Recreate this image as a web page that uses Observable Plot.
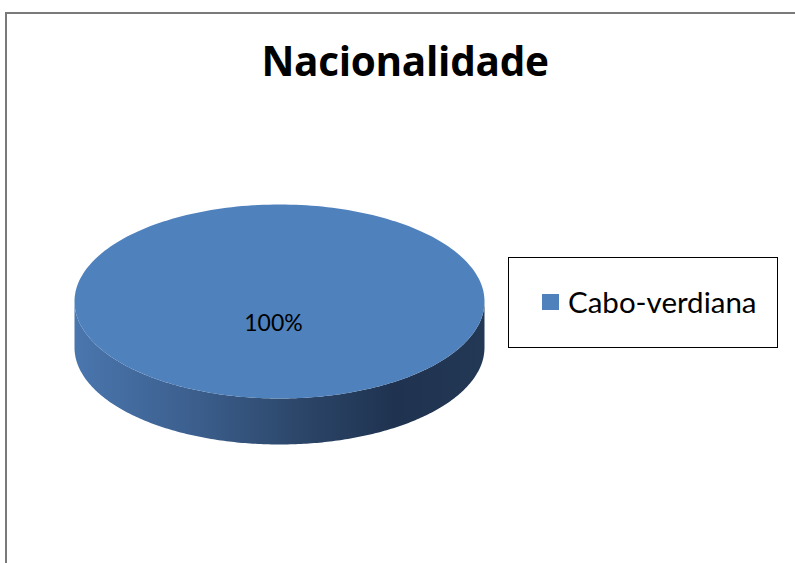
<!DOCTYPE html>
<html>
<head>
<meta charset="utf-8">
<script src="https://cdn.jsdelivr.net/npm/d3@7"></script>
<script src="https://cdn.jsdelivr.net/npm/@observablehq/plot@0.6"></script>
<style>
  html, body { margin: 0; padding: 0; background: #fff; }
  #wrap { position: relative; width: 795px; height: 563px; overflow: hidden; font-family: Lato, "Open Sans", sans-serif; color: #000; }
  #frame { position: absolute; left: 5px; top: 12px; width: 900px; height: 700px; border-top: 2px solid #7a7a7a; border-left: 2px solid #7a7a7a; box-sizing: border-box; }
  #title { position: absolute; left: 5px; width: 800px; top: 36px; text-align: center; font-family: "Open Sans", Lato, sans-serif; font-weight: 700; font-size: 40.5px; line-height: 50px; white-space: nowrap; letter-spacing: -0.3px; }
  #chart { position: absolute; left: 0; top: 0; }
  #legend { position: absolute; left: 508px; top: 257px; width: 270px; height: 91px; border: 1.5px solid #000; box-sizing: border-box; background: #fff; }
  .item { position: absolute; left: 33px; top: 26px; display: flex; align-items: center; white-space: nowrap; font-size: 29.5px; line-height: 36px; }
  .swatch { width: 17px; height: 16px; margin-right: 9px; }
</style>
</head>
<body>
<div id="wrap">
  <div id="frame"></div>
  <div id="chart"></div>
  <div id="title"></div>
  <div id="legend"></div>
</div>
<script>
// ---- data ----
const chartTitle = "Nacionalidade";
const categories = ["Cabo-verdiana"];
const values = [100];
const labels = ["100%"];
const colors = ["#4f81bd"];

// ---- layout (pixels) ----
const W = 795, H = 563;
const cx = 279, cy = 301, rx = 205, ry = 97, depth = 46;

document.getElementById("title").textContent = chartTitle;

const arcs = d3.pie().sort(null).value(d => d)(values);

const topPts = [];
const sidePts = [];
const labelPts = [];
const N = 240;
arcs.forEach((a, i) => {
  const a0 = a.startAngle, a1 = a.endAngle;
  const full = (a1 - a0) >= 2 * Math.PI - 1e-9;
  if (!full) topPts.push({x: cx, y: cy, k: i, color: colors[i]});
  for (let j = 0; j <= N; j++) {
    const t = a0 + (a1 - a0) * j / N;
    topPts.push({x: cx + rx * Math.sin(t), y: cy - ry * Math.cos(t), k: i, color: colors[i]});
  }
  // visible front side: angles in [PI/2, 3PI/2]
  const s = Math.max(a0, Math.PI / 2), e = Math.min(a1, 3 * Math.PI / 2);
  if (e > s) {
    const up = [], dn = [];
    for (let j = 0; j <= N; j++) {
      const t = s + (e - s) * j / N;
      up.push({x: cx + rx * Math.sin(t), y: cy - ry * Math.cos(t), k: i});
      dn.push({x: cx + rx * Math.sin(t), y: cy - ry * Math.cos(t) + depth, k: i});
    }
    sidePts.push(...up, ...dn.reverse());
  }
  const mid = (a0 + a1) / 2;
  const f = full ? 0.23 : 0.6;
  labelPts.push({x: cx + f * rx * Math.sin(mid), y: cy - f * ry * Math.cos(mid), text: labels[i]});
});

const plot = Plot.plot({
  width: W,
  height: H,
  margin: 0,
  x: {domain: [0, W], range: [0, W], axis: null},
  y: {domain: [0, H], range: [0, H], axis: null},
  color: {type: "identity"},
  marks: [
    Plot.line(sidePts, {x: "x", y: "y", z: "k", fill: "url(#sideGrad)", stroke: "none", curve: "linear"}),
    Plot.line(topPts, {x: "x", y: "y", z: "k", fill: "color", stroke: "none", curve: "linear"}),
    Plot.text(labelPts, {x: "x", y: "y", text: "text", dx: -6, fontSize: 23, fontFamily: "Lato, 'Open Sans', sans-serif", fill: "#000"})
  ]
});

const defs = d3.select(plot).insert("defs", ":first-child");
const g = defs.append("linearGradient").attr("id", "sideGrad")
  .attr("gradientUnits", "userSpaceOnUse")
  .attr("x1", cx - rx).attr("y1", 0).attr("x2", cx + rx).attr("y2", 0);
[[0, "#4a76ae"], [0.3, "#3b5e8c"], [0.55, "#2c4669"], [0.78, "#1f3350"], [1, "#233854"]]
  .forEach(([o, c]) => g.append("stop").attr("offset", o).attr("stop-color", c));

document.getElementById("chart").appendChild(plot);

const legend = d3.select("#legend");
categories.forEach((c, i) => {
  const it = legend.append("div").attr("class", "item").style("top", (26 + i * 36) + "px");
  it.append("div").attr("class", "swatch").style("background", colors[i]);
  it.append("span").text(c);
});
</script>
</body>
</html>
